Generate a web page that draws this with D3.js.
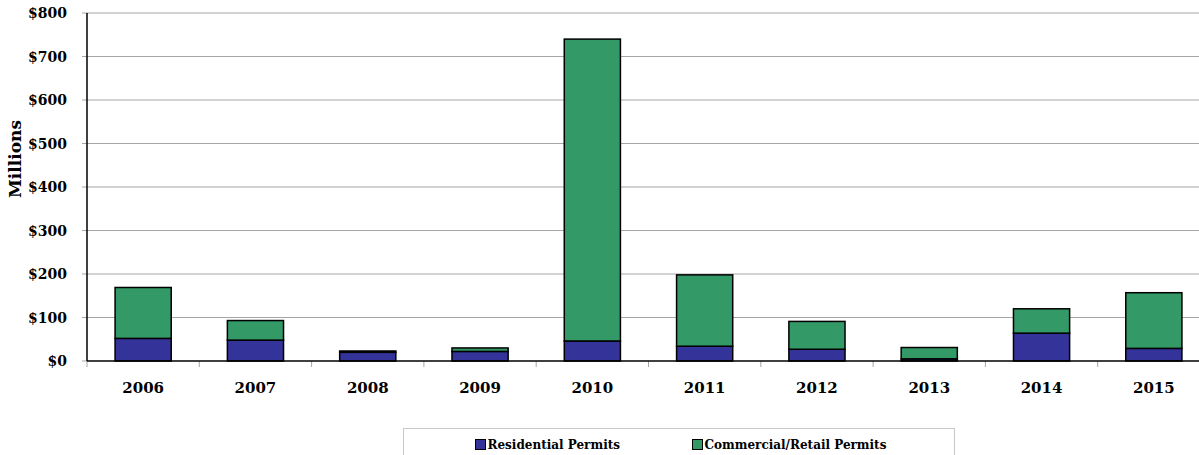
<!DOCTYPE html>
<html><head><meta charset="utf-8">
<script src="https://cdn.jsdelivr.net/npm/d3@7"></script>
<style>
html,body{margin:0;padding:0;background:#fff;overflow:hidden}
text{font-family:"DejaVu Serif","Liberation Serif",serif;font-weight:bold;fill:#000}
</style></head>
<body><svg id="c" width="1199" height="455"></svg>
<script>
const categories = ["2006","2007","2008","2009","2010","2011","2012","2013","2014","2015"];
const residential = [52, 48, 20, 22, 46, 34, 27, 5, 64, 29];
const commercial = [117, 45, 3, 8, 694, 164, 64, 26, 56, 128];
const yTicks = [0,100,200,300,400,500,600,700,800];
const seriesNames = ["Residential Permits","Commercial/Retail Permits"];
const colors = ["#333399","#339966"];

const svg = d3.select("#c");
const L = 87, R = 1210, T = 13, B = 361;
const x = d3.scaleBand().domain(categories).range([L,R]).paddingInner(0.5).paddingOuter(0.25);
const y = d3.scaleLinear().domain([0,800]).range([B,T]);

// gridlines
svg.append("g").selectAll("line").data(yTicks.filter(d=>d>0)).join("line")
  .attr("x1",L-5).attr("x2",R).attr("y1",d=>y(d)).attr("y2",d=>y(d))
  .attr("stroke","#a6a6a6").attr("stroke-width",1);

// y labels
svg.append("g").selectAll("text").data(yTicks).join("text")
  .attr("x",67).attr("y",d=>y(d)+5).attr("text-anchor","end")
  .attr("font-size",14).text(d=>"$"+d);
svg.append("line").attr("x1",L-5).attr("x2",L).attr("y1",B).attr("y2",B).attr("stroke","#a6a6a6");

svg.append("text").attr("transform","translate(21,159) rotate(-90)")
  .attr("text-anchor","middle").attr("font-size",17).text("Millions");

// stacked bars
const data = categories.map((c,i)=>({cat:c, res:residential[i], com:commercial[i]}));
const stack = d3.stack().keys(["res","com"])(data);
stack.forEach((s,si)=>{
  svg.append("g").selectAll("rect").data(s).join("rect")
    .attr("x",d=>x(d.data.cat)).attr("width",x.bandwidth())
    .attr("y",d=>y(d[1])).attr("height",d=>y(d[0])-y(d[1]))
    .attr("fill",colors[si]).attr("stroke","#000").attr("stroke-width",1.5);
});

// x axis ticks
const bounds = d3.range(categories.length+1).map(i=>L+i*(R-L)/categories.length);
svg.append("g").selectAll("line").data(bounds).join("line")
  .attr("x1",d=>d).attr("x2",d=>d).attr("y1",B).attr("y2",B+6)
  .attr("stroke","#a6a6a6").attr("stroke-width",1);
// axes lines
svg.append("line").attr("x1",L).attr("x2",R).attr("y1",B).attr("y2",B).attr("stroke","#000").attr("stroke-width",1.5);
svg.append("line").attr("x1",L).attr("x2",L).attr("y1",T).attr("y2",B).attr("stroke","#000").attr("stroke-width",1.5);

svg.append("g").selectAll("text").data(categories).join("text")
  .attr("x",d=>x(d)+x.bandwidth()/2).attr("y",393).attr("text-anchor","middle")
  .attr("font-size",15).text(d=>d);

// legend
svg.append("rect").attr("x",403.5).attr("y",428.5).attr("width",551).attr("height",40)
  .attr("fill","#fff").attr("stroke","#c8c8c8");
const lx = [475.5, 692.5];
seriesNames.forEach((n,i)=>{
  svg.append("rect").attr("x",lx[i]).attr("y",439.5).attr("width",10).attr("height",10)
    .attr("fill",colors[i]).attr("stroke","#000").attr("stroke-width",1);
  svg.append("text").attr("x",lx[i]+12).attr("y",448.5).attr("font-size",12).text(n);
});
</script></body></html>
